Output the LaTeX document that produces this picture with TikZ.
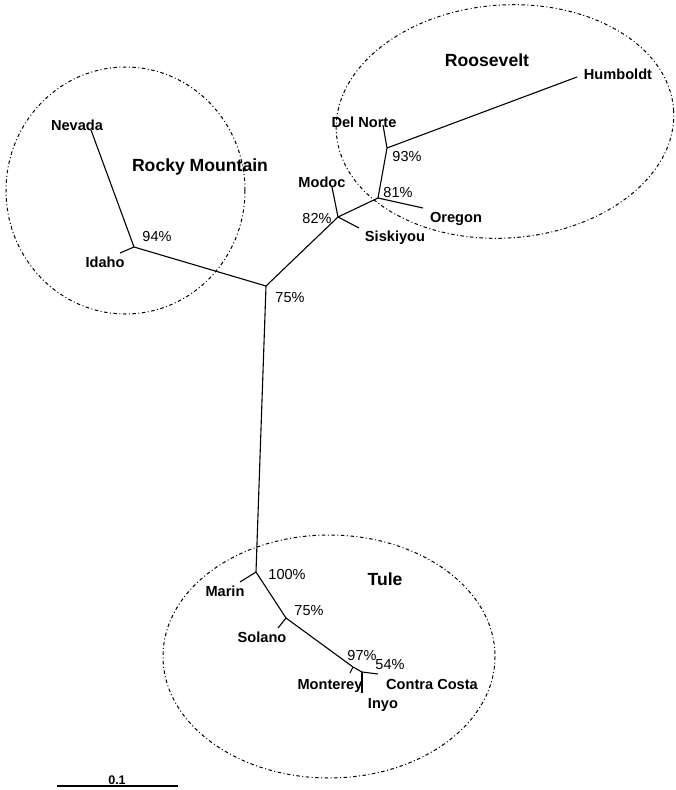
\documentclass[tikz,border=0pt]{standalone}
\usepackage{fontspec}
\setmainfont{Liberation Sans}
\begin{document}
\begin{tikzpicture}[x=1pt,y=-1pt,
  branch/.style={line width=1.1pt},
  taxon/.style={inner sep=0pt,anchor=base,font=\bfseries\fontsize{14.6}{16}\selectfont},
  group/.style={inner sep=0pt,anchor=base,font=\bfseries\fontsize{17.6}{20}\selectfont},
  boot/.style={inner sep=0pt,anchor=base,font=\fontsize{14.5}{16}\selectfont},
  cluster/.style={line width=1pt,dash pattern=on 3.5pt off 2.5pt on 1pt off 2.5pt}]
\useasboundingbox (0,0) rectangle (675,790);
% clusters
\draw[cluster] (125.5,190.5) ellipse [x radius=119.5, y radius=123.5];
\draw[cluster,rotate around={4:(505,121.5)}] (505,121.5) ellipse [x radius=169, y radius=116.5];
\draw[cluster] (329,656.5) ellipse [x radius=166, y radius=121.5];
% junctions and tips
\coordinate (C1) at (266,286);
\coordinate (R) at (134,247);
\coordinate (nev) at (91,130);
\coordinate (ida) at (120,253);
\coordinate (M) at (338,217);
\coordinate (mod) at (332,187);
\coordinate (sis) at (359,228);
\coordinate (N) at (378,198);
\coordinate (ore) at (423,208);
\coordinate (D) at (387,148);
\coordinate (deln) at (383,125);
\coordinate (hum) at (577,77);
\coordinate (T1) at (256,572);
\coordinate (mar) at (240,582);
\coordinate (T2) at (286,618);
\coordinate (sol) at (278,628);
\coordinate (T3) at (353,667);
\coordinate (mon) at (350,673);
\coordinate (T4) at (362,672);
\coordinate (iny) at (362,693);
\coordinate (cc) at (378,674);
\coordinate (sb1) at (57,786);
\coordinate (sb2) at (178,786);
% branches
\draw[branch] (C1) -- (R);
\draw[branch] (R) -- (nev);
\draw[branch] (R) -- (ida);
\draw[branch] (C1) -- (M);
\draw[branch] (M) -- (mod);
\draw[branch] (M) -- (sis);
\draw[branch] (M) -- (N);
\draw[branch] (N) -- (ore);
\draw[branch] (N) -- (D);
\draw[branch] (D) -- (deln);
\draw[branch] (D) -- (hum);
\draw[branch] (C1) -- (T1);
\draw[branch] (T1) -- (mar);
\draw[branch] (T1) -- (T2);
\draw[branch] (T2) -- (sol);
\draw[branch] (T2) -- (T3);
\draw[branch] (T3) -- (mon);
\draw[branch] (T3) -- (T4);
\draw[branch] (T4) -- (iny);
\draw[branch] (T4) -- (cc);
\draw[line width=1.4pt] (sb1) -- (sb2);
% labels
\node[taxon] (lnev) at (77,130) {Nevada};
\node[taxon] (lida) at (105,267) {Idaho};
\node[group] (lrocky) at (200,171) {Rocky Mountain};
\node[boot] (b94) at (157,241) {94\%};
\node[boot] (b75a) at (290,302) {75\%};
\node[taxon] (lmod) at (322,187) {Modoc};
\node[boot] (b82) at (317,223) {82\%};
\node[taxon] (lsis) at (395,241) {Siskiyou};
\node[taxon] (lore) at (456,222) {Oregon};
\node[boot] (b81) at (398,197) {81\%};
\node[boot] (b93) at (407,161) {93\%};
\node[taxon] (ldeln) at (364,127) {Del Norte};
\node[taxon] (lhum) at (618,79) {Humboldt};
\node[group] (lroos) at (487,66) {Roosevelt};
\node[group] (ltule) at (385,585) {Tule};
\node[taxon] (lmar) at (225,596) {Marin};
\node[boot] (b100) at (287,579) {100\%};
\node[taxon] (lsol) at (262,642) {Solano};
\node[boot] (b75b) at (309,615) {75\%};
\node[boot] (b97) at (362,660) {97\%};
\node[boot] (b54) at (390,669) {54\%};
\node[taxon] (lmon) at (330,689) {Monterey};
\node[taxon] (lcc) at (432,689) {Contra Costa};
\node[taxon] (liny) at (383,708) {Inyo};
\node[inner sep=0pt,anchor=base,font=\bfseries\fontsize{12.5}{14}\selectfont] (lscale) at (117,784) {0.1};
\end{tikzpicture}
\end{document}
